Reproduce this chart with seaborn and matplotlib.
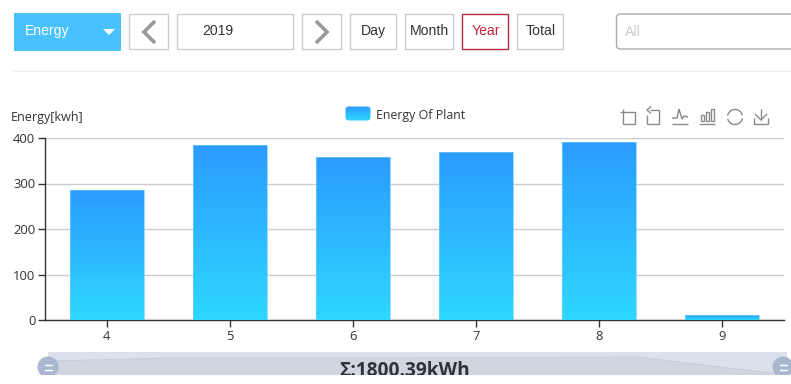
import numpy as np
import pandas as pd
import matplotlib
matplotlib.use("Agg")
import matplotlib.pyplot as plt
import matplotlib.colors as mcolors
from matplotlib.patches import Rectangle, FancyBboxPatch, Circle, Polygon
import seaborn as sns

months = ["4", "5", "6", "7", "8", "9"]
energy = [286.5, 384.5, 357.5, 370, 392, 10.39]
y_ticks = [0, 100, 200, 300, 400]
legend_label = "Energy Of Plant"
y_title = "Energy[kwh]"
total_label = "Σ:1800.39kWh"
buttons = ["Day", "Month", "Year", "Total"]

sns.set_theme(style="white")
ui_font = ["Liberation Sans", "DejaVu Sans"]
chart_font = ["Open Sans", "DejaVu Sans"]
plt.rcParams["font.family"] = chart_font

W, H = 791, 384
fig = plt.figure(figsize=(W / 100, H / 100), dpi=100, facecolor="white")

# the page around the chart, in pixels
ui = fig.add_axes([0, 0, 1, 1])
ui.set_xlim(0, W)
ui.set_ylim(H, 0)
ui.axis("off")

grad = mcolors.LinearSegmentedColormap.from_list("bar", ["#2B9CFF", "#2ED7FF"])
ramp = np.linspace(0, 1, 128).reshape(-1, 1)


def box(x0, y0, x1, y1, edge="#CCCCCC", face="white", lw=1.0):
    ui.add_patch(Rectangle((x0 - 0.5, y0 - 0.5), x1 - x0, y1 - y0, facecolor=face, edgecolor=edge, linewidth=lw))


def label(x, y, s, color="#333333", size=10.1, ha="center", **kw):
    ui.text(x, y, s, color=color, fontsize=size, ha=ha, va="center", family=ui_font, **kw)


def icon(pts, color="#8A8A8A", lw=1.0):
    pts = np.array(pts)
    ui.plot(pts[:, 0], pts[:, 1], color=color, lw=lw, solid_capstyle="butt", solid_joinstyle="miter")


# top bar
ui.add_patch(Rectangle((14, 13), 107, 38, facecolor="#4AC1FF", edgecolor="none"))
label(25, 31.5, "Energy", color="white", ha="left")
ui.add_patch(Polygon([(103, 29), (115, 29), (109, 35)], facecolor="white", edgecolor="none"))

box(129.5, 14.5, 168.5, 49.5)
icon([(155, 21), (144, 32), (155, 43)], color="#999999", lw=2.6)
box(177.5, 14.5, 293.5, 49.5)
label(218, 31, "2019")
box(302.5, 14.5, 341.5, 49.5)
icon([(316, 21), (327, 32), (316, 43)], color="#999999", lw=2.6)

box(350.5, 14.5, 396.5, 49.5)
label(373.5, 31, buttons[0])
box(405.5, 14.5, 453.5, 49.5)
label(429.5, 31, buttons[1])
box(462.5, 14.5, 508.5, 49.5, edge="#B8293F")
label(485.5, 31, buttons[2], color="#C4213C")
box(517.5, 14.5, 563.5, 49.5)
label(540.5, 31, buttons[3])

ui.add_patch(FancyBboxPatch((616.5, 14), 200, 35, boxstyle="round,pad=0,rounding_size=4",
                            facecolor="white", edgecolor="#ABABAB", linewidth=1))
label(625, 32, "All", color="#CCCCCC", ha="left")
ui.plot([13, 791], [71, 71], color="#EEEEEE", lw=1)

# chart titles and legend
ui.text(11, 117.5, y_title, color="#333333", fontsize=9.0, va="center", ha="left")
leg = FancyBboxPatch((345.5, 106.5), 25, 14, boxstyle="round,pad=0,rounding_size=3",
                     facecolor="none", edgecolor="none")
ui.add_patch(leg)
im = ui.imshow(ramp, extent=(345, 371, 121, 106), cmap=grad, aspect="auto", zorder=2)
im.set_clip_path(leg)
ui.set_xlim(0, W)
ui.set_ylim(H, 0)
ui.text(376, 115, legend_label, color="#333333", fontsize=8.9, va="center", ha="left")

# toolbox icons
icon([(620, 112), (634.5, 112), (634.5, 124), (622.5, 124), (622.5, 108.5)])
icon([(650, 110), (659, 110), (659, 124), (647, 124), (647, 115)])
icon([(651, 106.5), (647, 110), (651, 113.5)])
icon([(672, 123.5), (688, 123.5)])
icon([(672, 118), (677, 118), (679, 109), (682, 119), (684, 116), (688, 117)])
icon([(699, 123.5), (715, 123.5)])
for x0, top in [(701, 115), (706, 112), (711, 109)]:
    icon([(x0, 121), (x0, top), (x0 + 3, top), (x0 + 3, 121), (x0, 121)])
t = np.linspace(0.2, 2.9, 30)
icon(np.c_[735 + 7.5 * np.cos(t), 117 + 7.5 * np.sin(t)])
icon(np.c_[735 + 7.5 * np.cos(t + np.pi), 117 + 7.5 * np.sin(t + np.pi)])
icon([(754, 118), (754, 124), (768, 124), (768, 118)])
icon([(761, 109), (761, 120)])
icon([(755, 114), (761, 120), (767, 114)])

# dataZoom strip under the axis, the screenshot cuts it off at y=375
ui.add_patch(Rectangle((48, 352), 739, 32, facecolor="#DBE1EA", edgecolor="none"))
ui.add_patch(Polygon([(48, 361), (170, 358), (400, 358), (637, 357), (780, 374), (787, 384), (48, 384)],
                     facecolor="#CFD6E0", edgecolor="#C3CCDA", linewidth=0.6))
for cx in (48, 783):
    ui.add_patch(Circle((cx, 367), 10.5, facecolor="#A9B8D0", edgecolor="none", zorder=3))
    for dy in (-2.5, 2.5):
        ui.plot([cx - 3.5, cx + 3.5], [367 + dy, 367 + dy], color="white", lw=1, zorder=4)
ui.text(405, 370.5, total_label, color="#2F3338", fontsize=13.8, fontweight="bold", ha="center", va="center",
        family=["Open Sans", "DejaVu Sans"], zorder=5)
ui.add_patch(Rectangle((0, 375), W, 9, facecolor="white", edgecolor="none", zorder=6))

# the chart itself
ax = fig.add_axes([45 / W, 1 - 320 / H, (784 - 45) / W, (320 - 138) / H], facecolor="none")
df = pd.DataFrame({"month": months, "energy": energy})
sns.barplot(data=df, x="month", y="energy", width=0.6, color="#2B9CFF", ax=ax)
ax.set_xlim(-0.5, 5.5)
ax.set_ylim(0, 400)
ax.set_yticks(y_ticks)
ax.set_xlabel("")
ax.set_ylabel("")
ax.grid(axis="y", color="#CCCCCC", lw=1)
ax.set_axisbelow(True)
sns.despine(ax=ax, top=True, right=True)
for side in ("left", "bottom"):
    ax.spines[side].set_color("#333333")
    ax.spines[side].set_linewidth(1)
ax.tick_params(axis="both", length=5, width=1, color="#333333", labelcolor="#333333",
               labelsize=9.4, left=True, bottom=True, pad=2)

# each bar gets the vertical gradient, top to bottom of that bar
for p in ax.patches:
    x0, y0 = p.get_x(), p.get_y()
    x1, y1 = x0 + p.get_width(), y0 + p.get_height()
    p.set_facecolor("none")
    p.set_edgecolor("#6FCDFF")
    p.set_linewidth(0.5)
    p.set_zorder(4)
    img = ax.imshow(ramp, extent=(x0, x1, y0, y1), cmap=grad, aspect="auto", zorder=3, origin="upper")
    img.set_clip_path(p)
ax.set_xlim(-0.5, 5.5)
ax.set_ylim(0, 400)

fig.savefig("out.png", dpi=100)
